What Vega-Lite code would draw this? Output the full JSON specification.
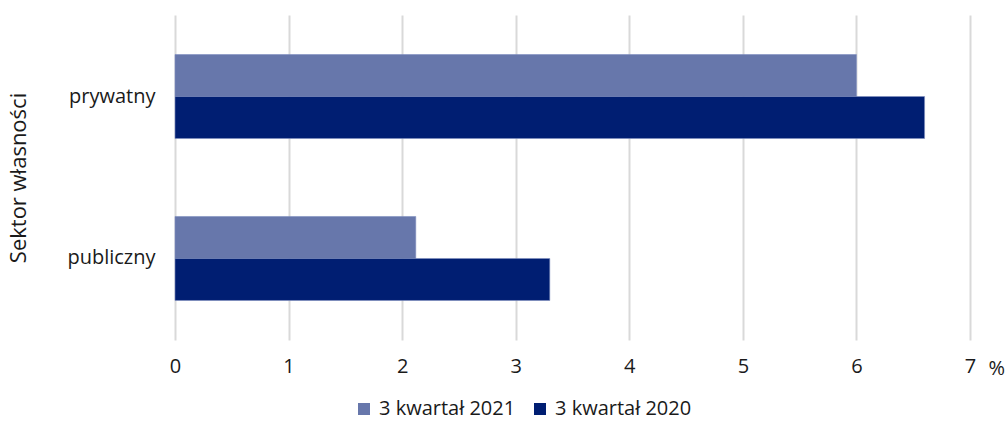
{
  "$schema": "https://vega.github.io/schema/vega-lite/v6.json",
  "width": 795,
  "height": 325,
  "autosize": {"type": "none"},
  "padding": {"left": 175, "top": 15, "right": 38, "bottom": 81},
  "background": "white",
  "config": {
    "view": {"stroke": null},
    "font": "Open Sans",
    "axis": {"labelFont": "Open Sans", "titleFont": "Open Sans", "labelColor": "#1a1a1a", "titleColor": "#1a1a1a"},
    "legend": {"labelFont": "Open Sans"}
  },
  "data": {
    "values": [
      {"sektor": "prywatny", "okres": "3 kwartał 2021", "wartosc": 6.0},
      {"sektor": "prywatny", "okres": "3 kwartał 2020", "wartosc": 6.6},
      {"sektor": "publiczny", "okres": "3 kwartał 2021", "wartosc": 2.12},
      {"sektor": "publiczny", "okres": "3 kwartał 2020", "wartosc": 3.3}
    ]
  },
  "mark": {"type": "bar", "stroke": "#7f8fc0", "strokeWidth": 0.6},
  "encoding": {
    "y": {
      "field": "sektor",
      "type": "nominal",
      "sort": ["prywatny", "publiczny"],
      "scale": {"paddingInner": 0.4815, "paddingOuter": 0.244},
      "axis": {
        "title": "Sektor własności",
        "titleFontSize": 22,
        "titleFontWeight": "normal",
        "titleX": -145,
        "labelFontSize": 20,
        "labelPadding": 20,
        "domain": false,
        "ticks": false,
        "grid": false
      }
    },
    "yOffset": {
      "field": "okres",
      "type": "nominal",
      "sort": ["3 kwartał 2021", "3 kwartał 2020"]
    },
    "x": {
      "field": "wartosc",
      "type": "quantitative",
      "scale": {"domain": [0, 7], "nice": false},
      "axis": {
        "values": [0, 1, 2, 3, 4, 5, 6, 7],
        "title": "%",
        "titleFontSize": 20,
        "titleFontWeight": "normal",
        "titleX": 813,
        "titleY": 28,
        "titleAlign": "left",
        "titleBaseline": "middle",
        "labelFontSize": 20,
        "labelPadding": 16,
        "labelFlush": false,
        "domain": false,
        "ticks": false,
        "grid": true,
        "gridColor": "#d9d9d9",
        "gridWidth": 2
      }
    },
    "color": {
      "field": "okres",
      "type": "nominal",
      "scale": {"domain": ["3 kwartał 2021", "3 kwartał 2020"], "range": ["#6777ab", "#001e72"]},
      "legend": {
        "title": null,
        "orient": "none",
        "direction": "horizontal",
        "legendX": 179,
        "legendY": 384,
        "symbolType": "square",
        "symbolSize": 144,
        "symbolStrokeWidth": 0,
        "labelFontSize": 20,
        "labelColor": "#1a1a1a",
        "labelOffset": 5,
        "columnPadding": 14
      }
    }
  }
}
